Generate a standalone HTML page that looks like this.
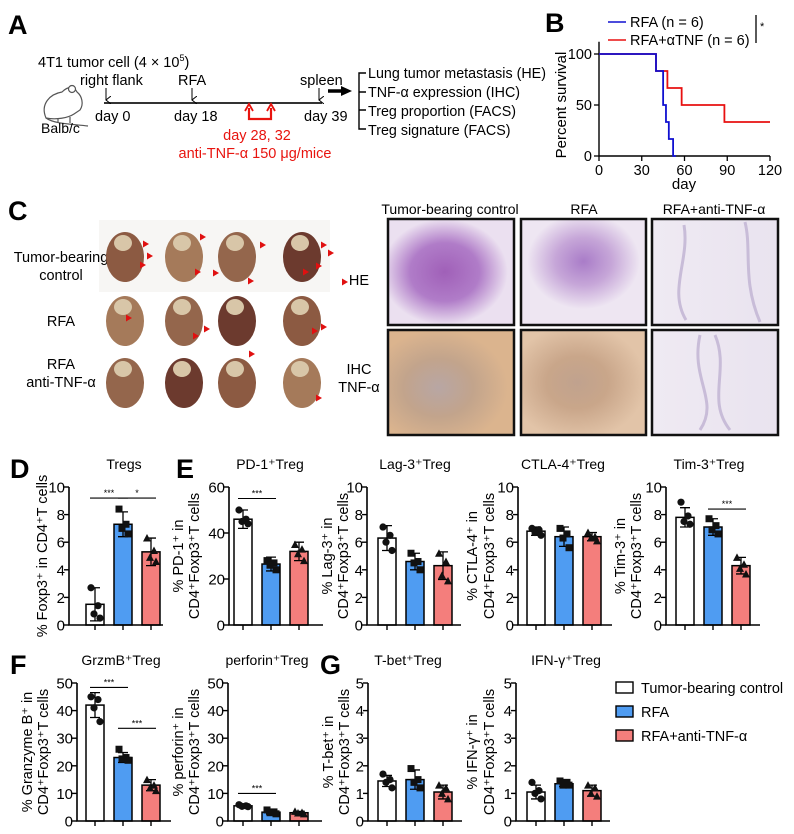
<!DOCTYPE html>
<html><head><meta charset="utf-8"><style>
body{margin:0;background:#fff;}
svg{display:block;font-family:"Liberation Sans",sans-serif;}
text{fill:#000;}
</style></head><body>
<svg id="fig" width="794" height="834" viewBox="0 0 794 834">
<defs>
<radialGradient id="he1" cx="0.45" cy="0.5" r="0.5"><stop offset="0" stop-color="#a060b8"/><stop offset="0.55" stop-color="#b07cc8"/><stop offset="1" stop-color="#ebe0f0"/></radialGradient>
<radialGradient id="he2" cx="0.5" cy="0.4" r="0.45"><stop offset="0" stop-color="#a97cc8"/><stop offset="0.5" stop-color="#c6a6d8"/><stop offset="1" stop-color="#eee6f2"/></radialGradient>
<linearGradient id="he3"><stop offset="0" stop-color="#efeaf3"/><stop offset="1" stop-color="#e9e3ef"/></linearGradient>
<radialGradient id="ihc1" cx="0.4" cy="0.55" r="0.55"><stop offset="0" stop-color="#b8a6a4"/><stop offset="0.5" stop-color="#c2a48c"/><stop offset="1" stop-color="#dbb48e"/></radialGradient>
<radialGradient id="ihc2" cx="0.45" cy="0.5" r="0.55"><stop offset="0" stop-color="#c0a28e"/><stop offset="0.45" stop-color="#c9a68a"/><stop offset="1" stop-color="#e2c4a8"/></radialGradient>
<marker id="ah" markerWidth="8" markerHeight="6" refX="4" refY="5" orient="auto"><path d="M0,0 L4,5 L8,0" fill="none" stroke="#000" stroke-width="1"/></marker>
</defs>

<!-- Panel A -->
<g>
<text x="8" y="34" font-size="27" font-weight="bold">A</text>
<text x="38" y="67" font-size="14.5">4T1 tumor cell (4 × 10<tspan font-size="9" dy="-6">5</tspan><tspan dy="6">)</tspan></text>
<text x="80" y="85" font-size="14.5">right flank</text>
<text x="178" y="85" font-size="14.5">RFA</text>
<text x="300" y="85" font-size="14.5">spleen</text>
<line x1="104" y1="103" x2="322" y2="103" stroke="#333" stroke-width="2"/>
<line x1="106" y1="88" x2="106" y2="100" stroke="#000" marker-end="url(#ah)"/>
<line x1="192" y1="88" x2="192" y2="100" stroke="#000" marker-end="url(#ah)"/>
<line x1="319" y1="88" x2="319" y2="100" stroke="#000" marker-end="url(#ah)"/>
<text x="95" y="121" font-size="14.5">day 0</text>
<text x="174" y="121" font-size="14.5">day 18</text>
<text x="304" y="121" font-size="14.5">day 39</text>
<path d="M249,108 V119 H271 V108" fill="none" stroke="#e8140f" stroke-width="2.2"/>
<path d="M245,111 L249,104 L253,111 M267,111 L271,104 L275,111" fill="none" stroke="#e8140f" stroke-width="1.8"/>
<text x="257" y="140" font-size="14.5" text-anchor="middle" style="fill:#e8140f">day 28, 32</text>
<text x="255" y="158" font-size="14.5" text-anchor="middle" style="fill:#e8140f">anti-TNF-α 150 μg/mice</text>
<path d="M328,91 H343" stroke="#000" stroke-width="3.5"/><path d="M341,86 L352,91 L341,96 Z" fill="#000"/>
<path d="M366,73 H359 V129 H366 M359,92 H366 M359,110 H366" fill="none" stroke="#000" stroke-width="1.4"/>
<text x="368" y="78" font-size="14.3">Lung tumor metastasis (HE)</text>
<text x="368" y="97" font-size="14.3">TNF-α expression (IHC)</text>
<text x="368" y="116" font-size="14.3">Treg proportion (FACS)</text>
<text x="368" y="135" font-size="14.3">Treg signature (FACS)</text>
<g fill="#fff" stroke="#555" stroke-width="1.2">
<path d="M46,118 C40,104 50,94 62,92 C68,86 74,86 77,92 C82,96 84,104 80,110 L74,114 C68,118 56,120 46,118 Z"/>
<circle cx="72" cy="89" r="3.5"/>
<path d="M46,118 C54,124 72,124 88,126" fill="none"/>
<path d="M58,118 v5 M70,117 v6" fill="none"/>
</g>
<text x="41" y="133" font-size="14">Balb/c</text>
</g>

<!-- Panel B -->
<g id="panelB">
<text x="545" y="32" font-size="27" font-weight="bold">B</text>
<line x1="608" y1="22" x2="626" y2="22" stroke="#1010d0" stroke-width="1.6"/>
<text x="630" y="27" font-size="14.5">RFA (n = 6)</text>
<line x1="608" y1="40" x2="626" y2="40" stroke="#e81010" stroke-width="1.6"/>
<text x="630" y="45" font-size="14.5">RFA+αTNF (n = 6)</text>
<line x1="756" y1="15" x2="756" y2="43" stroke="#000" stroke-width="1.3"/>
<text x="760" y="30" font-size="11">*</text>
<text transform="translate(566,105) rotate(-90)" font-size="15" text-anchor="middle">Percent survival</text>
<text x="684" y="189" font-size="15" text-anchor="middle">day</text>
</g>

<!-- Panel C -->
<g>
<text x="8" y="220" font-size="27" font-weight="bold">C</text>
<rect x="99" y="220" width="231" height="72" fill="#f7f6f4"/>
<text x="61" y="262" font-size="14.5" text-anchor="middle">Tumor-bearing</text>
<text x="61" y="280" font-size="14.5" text-anchor="middle">control</text>
<text x="61" y="326" font-size="14.5" text-anchor="middle">RFA</text>
<text x="61" y="369" font-size="14.5" text-anchor="middle">RFA</text>
<text x="61" y="387" font-size="14.5" text-anchor="middle">anti-TNF-α</text>
<g id="lungs"></g>
<text x="450" y="214" font-size="14" text-anchor="middle">Tumor-bearing control</text>
<text x="584" y="214" font-size="14" text-anchor="middle">RFA</text>
<text x="714" y="214" font-size="14" text-anchor="middle">RFA+anti-TNF-α</text>
<text x="359" y="285" font-size="14.5" text-anchor="middle">HE</text>
<text x="359" y="374" font-size="14.5" text-anchor="middle">IHC</text>
<text x="359" y="392" font-size="14.5" text-anchor="middle">TNF-α</text>
<rect x="388" y="219" width="126" height="106" fill="url(#he1)" stroke="#111" stroke-width="2.5"/>
<rect x="521" y="219" width="125" height="106" fill="url(#he2)" stroke="#111" stroke-width="2.5"/>
<rect x="652" y="219" width="126" height="106" fill="url(#he3)" stroke="#111" stroke-width="2.5"/>
<rect x="388" y="330" width="126" height="105" fill="url(#ihc1)" stroke="#111" stroke-width="2.5"/>
<rect x="521" y="330" width="125" height="105" fill="url(#ihc2)" stroke="#111" stroke-width="2.5"/>
<rect x="652" y="330" width="126" height="105" fill="url(#he3)" stroke="#111" stroke-width="2.5"/>
<path d="M684,225 C690,260 668,290 686,320 M715,335 C730,370 706,400 730,430 M745,222 C752,250 742,280 760,322 M700,335 C690,380 720,400 700,430" stroke="#c8bcd8" stroke-width="3" fill="none"/>
</g>

<text x="10" y="478" font-size="27" font-weight="bold">D</text>
<text x="176" y="478" font-size="27" font-weight="bold">E</text>
<text x="10" y="674" font-size="27" font-weight="bold">F</text>
<text x="320" y="674" font-size="27" font-weight="bold">G</text>

<g>
<rect x="616" y="682" width="17" height="11" fill="#fff" stroke="#000" stroke-width="1.4"/>
<text x="641" y="693" font-size="14.5">Tumor-bearing control</text>
<rect x="616" y="706" width="17" height="11" fill="#4f9cf2" stroke="#000" stroke-width="1.4"/>
<text x="641" y="717" font-size="14.5">RFA</text>
<rect x="616" y="730" width="17" height="11" fill="#f47e7c" stroke="#000" stroke-width="1.4"/>
<text x="641" y="741" font-size="14.5">RFA+anti-TNF-α</text>
</g>
<g id="charts"></g>
</svg>
<script>
// ---- Survival data (panel B) ----
const survTicksX = [0, 30, 60, 90, 120];
const survTicksY = [0, 50, 100];
const rfaDays = [0, 40, 45, 47, 49, 52, 54];
const rfaSurv = [100, 83.3, 50, 33.3, 16.7, 0, 0];
const atnfDays = [0, 40, 48, 58, 88, 120];
const atnfSurv = [100, 83.3, 66.7, 50, 33.3, 33.3];

// ---- Bar chart data ----
const groups = ['Tumor-bearing control', 'RFA', 'RFA+anti-TNF-α'];
const tregMeans = [1.5, 7.3, 5.3];
const tregSD = [1.2, 0.9, 1.0];
const tregPts = [[2.7, 1.4, 0.8, 0.5], [8.4, 7.3, 7.0, 6.6], [6.3, 5.4, 4.9, 4.6]];
const pd1Means = [46, 26.5, 32];
const pd1SD = [4, 3, 4];
const pd1Pts = [[50, 46, 45, 44], [28, 27, 26, 24], [35, 33, 31, 28]];
const lag3Means = [6.3, 4.6, 4.3];
const lag3SD = [0.9, 0.6, 1.0];
const lag3Pts = [[7.1, 6.5, 6.0, 5.4], [5.2, 4.6, 4.5, 4.0], [5.2, 4.6, 3.6, 3.2]];
const ctla4Means = [6.8, 6.4, 6.4];
const ctla4SD = [0.3, 0.7, 0.3];
const ctla4Pts = [[7.0, 6.9, 6.7, 6.5], [7.0, 6.6, 6.3, 5.6], [6.7, 6.4, 6.3, 6.1]];
const tim3Means = [7.8, 7.1, 4.3];
const tim3SD = [0.7, 0.6, 0.6];
const tim3Pts = [[8.9, 7.9, 7.5, 7.3], [7.7, 7.2, 6.9, 6.6], [4.9, 4.4, 4.1, 3.7]];
const grzmMeans = [42, 23, 13];
const grzmSD = [4.5, 1.8, 2];
const grzmPts = [[45, 44, 41, 36], [26, 23, 22.5, 22], [15, 13, 12, 11]];
const perfMeans = [5.5, 3.2, 3];
const perfSD = [0.5, 0.7, 0.5];
const perfPts = [[5.9, 5.5, 5.3, 5.2], [4, 3.3, 3, 2.6], [3.5, 3.1, 2.9, 2.6]];
const tbetMeans = [1.45, 1.5, 1.05];
const tbetSD = [0.2, 0.35, 0.25];
const tbetPts = [[1.7, 1.5, 1.4, 1.2], [1.9, 1.5, 1.4, 1.2], [1.3, 1.2, 1.0, 0.8]];
const ifnMeans = [1.05, 1.35, 1.1];
const ifnSD = [0.25, 0.1, 0.2];
const ifnPts = [[1.4, 1.1, 1.0, 0.8], [1.45, 1.4, 1.3, 1.3], [1.3, 1.2, 1.0, 0.9]];

const NS = 'http://www.w3.org/2000/svg';
function mk(tag, attrs, parent) {
  const e = document.createElementNS(NS, tag);
  for (const k in attrs) e.setAttribute(k, attrs[k]);
  parent.appendChild(e);
  return e;
}

// ---- Panel B drawing ----
(function () {
  const g = document.getElementById('panelB');
  const x0 = 599, x1 = 770, yTop = 54, yBot = 156;
  const sx = d => x0 + d / 120 * (x1 - x0);
  const sy = v => yBot - v / 100 * (yBot - yTop);
  const ax = mk('path', { d: `M${x0},${sy(112)} V${yBot} H${x1}`, fill: 'none', stroke: '#000', 'stroke-width': 1.4 }, g);
  
  
  survTicksX.forEach(t => {
    mk('line', { x1: sx(t), y1: yBot, x2: sx(t), y2: yBot + 5, stroke: '#000', 'stroke-width': 1.3 }, g);
    const tx = mk('text', { x: sx(t), y: yBot + 19, 'font-size': 14.5, 'text-anchor': 'middle' }, g);
    tx.textContent = t;
    
    
  });
  survTicksY.forEach(t => {
    mk('line', { x1: x0 - 5, y1: sy(t), x2: x0, y2: sy(t), stroke: '#000', 'stroke-width': 1.3 }, g);
    const tx = mk('text', { x: x0 - 7, y: sy(t) + 5, 'font-size': 14.5, 'text-anchor': 'end' }, g);
    tx.textContent = t;
    
    
  });
  function step(days, surv, color, name) {
    let d = `M${sx(days[0])},${sy(surv[0])}`;
    for (let i = 1; i < days.length; i++) d += ` H${sx(days[i])} V${sy(surv[i])}`;
    const p = mk('path', { d, fill: 'none', stroke: color, 'stroke-width': 1.8 }, g);
    
    
  }
  step(atnfDays, atnfSurv, '#e81010', 'survival-curve-rfa-atnf');
  step(rfaDays, rfaSurv, '#1010d0', 'survival-curve-rfa');
})();

// ---- Lung photos ----
(function () {
  const g = document.getElementById('lungs');
  const xs = [125, 184, 237, 302], ys = [257, 321, 383];
  const cols = ['#8c5a42', '#a57a5a', '#94664c', '#6c3a2e'];
  ys.forEach((y, r) => xs.forEach((x, c) => {
    const e = mk('ellipse', { cx: x, cy: y, rx: 19, ry: 25, fill: cols[(r + c) % 4] }, g);
    
    
    mk('ellipse', { cx: x - 2, cy: y - 14, rx: 9, ry: 8, fill: '#d8c6a8' }, g);
  }));
  [[143,244],[147,256],[140,265],[200,237],[195,272],[213,273],[260,245],[248,281],[342,282],[321,245],[328,253],[303,272],[316,266],[126,318],[204,329],[193,336],[249,354],[312,331],[321,327],[316,398]].forEach(p => {
    mk('path', { d: `M${p[0]},${p[1] - 3.5} L${p[0] + 6},${p[1]} L${p[0]},${p[1] + 3.5} Z`, fill: '#e01010' }, g);
  });
})();

// ---- Bar charts ----
const cfgs = [
  { means: tregMeans, sd: tregSD, pts: tregPts, ax: 69, y0: 625, max: 10, step: 2, start: 17, tox: 55, l: [-22], title: 'Tregs', lab: ['% Foxp3⁺ in CD4⁺T cells'], sig: [[0, 1, 9.2, '***'], [1, 2, 9.2, '*']], name: 'tregs' },
  { means: pd1Means, sd: pd1SD, pts: pd1Pts, ax: 229, y0: 625, max: 60, step: 20, start: 5, tox: 41, l: [-46, -30], title: 'PD-1⁺Treg', lab: ['% PD-1⁺ in', 'CD4⁺Foxp3⁺T cells'], sig: [[0, 1, 55, '***']], name: 'pd1' },
  { means: lag3Means, sd: lag3SD, pts: lag3Pts, ax: 367, y0: 625, max: 10, step: 2, start: 11, tox: 48, l: [-35, -19], title: 'Lag-3⁺Treg', lab: ['% Lag-3⁺ in', 'CD4⁺Foxp3⁺T cells'], sig: [], name: 'lag3' },
  { means: ctla4Means, sd: ctla4SD, pts: ctla4Pts, ax: 518, y0: 625, max: 10, step: 2, start: 9, tox: 45, l: [-41, -24], title: 'CTLA-4⁺Treg', lab: ['% CTLA-4⁺ in', 'CD4⁺Foxp3⁺T cells'], sig: [], name: 'ctla4' },
  { means: tim3Means, sd: tim3SD, pts: tim3Pts, ax: 666, y0: 625, max: 10, step: 2, start: 10, tox: 43, l: [-41, -25], title: 'Tim-3⁺Treg', lab: ['% Tim-3⁺ in', 'CD4⁺Foxp3⁺T cells'], sig: [[1, 2, 8.4, '***']], name: 'tim3' },
  { means: grzmMeans, sd: grzmSD, pts: grzmPts, ax: 77, y0: 821, max: 50, step: 10, start: 9, tox: 44, l: [-45, -29], title: 'GrzmB⁺Treg', lab: ['% Granzyme B⁺ in', 'CD4⁺Foxp3⁺T cells'], sig: [[0, 1, 48.4, '***'], [1, 2, 33.6, '***']], name: 'grzmb' },
  { means: perfMeans, sd: perfSD, pts: perfPts, ax: 228, y0: 821, max: 50, step: 10, start: 6, tox: 39, l: [-45, -29], title: 'perforin⁺Treg', lab: ['% perforin⁺ in', 'CD4⁺Foxp3⁺T cells'], sig: [[0, 1, 10, '***']], name: 'perforin' },
  { means: tbetMeans, sd: tbetSD, pts: tbetPts, ax: 368, y0: 821, max: 5, step: 1, start: 10, tox: 40, l: [-35, -19], title: 'T-bet⁺Treg', lab: ['% T-bet⁺ in', 'CD4⁺Foxp3⁺T cells'], sig: [], name: 'tbet' },
  { means: ifnMeans, sd: ifnSD, pts: ifnPts, ax: 516, y0: 821, max: 5, step: 1, start: 11, tox: 50, l: [-39, -22], title: 'IFN-γ⁺Treg', lab: ['% IFN-γ⁺ in', 'CD4⁺Foxp3⁺T cells'], sig: [], name: 'ifng' }
];
const fills = ['#ffffff', '#4f9cf2', '#f47e7c'];
const chartsG = document.getElementById('charts');
cfgs.forEach(c => {
  const g = mk('g', {}, chartsG);
  
  
  const H = 138;
  const sy = v => c.y0 - v / c.max * H;
  const bx = i => c.ax + c.start + i * 28;
  const bw = 18;
  const t = mk('text', { x: c.ax + c.tox, y: c.y0 - H - 18, 'font-size': 14, 'text-anchor': 'middle' }, g);
  t.textContent = c.title;
  
  
  c.lab.forEach((l, i) => {
    const lx = c.ax + c.l[i];
    const tl = mk('text', { transform: `translate(${lx},${c.y0 - H / 2}) rotate(-90)`, 'font-size': 14.5, 'text-anchor': 'middle' }, g);
    tl.textContent = l;
    
    
  });
  for (let v = 0; v <= c.max + 1e-9; v += c.step) {
    mk('line', { x1: c.ax - 5, y1: sy(v), x2: c.ax, y2: sy(v), stroke: '#000', 'stroke-width': 1.4 }, g);
    const tx = mk('text', { x: c.ax - 4, y: sy(v) + 5.5, 'font-size': 15, 'text-anchor': 'end' }, g);
    tx.textContent = v;
    
    
  }
  c.means.forEach((m, i) => {
    const r = mk('rect', { x: bx(i), y: sy(m), width: bw, height: c.y0 - sy(m), fill: fills[i], stroke: '#000', 'stroke-width': 1.5 }, g);
    
    
    const cx = bx(i) + bw / 2;
    mk('path', { d: `M${cx},${sy(m - c.sd[i])} V${sy(m + c.sd[i])} M${cx - 5},${sy(m + c.sd[i])} H${cx + 5} M${cx - 5},${sy(m - c.sd[i])} H${cx + 5}`, stroke: '#000', 'stroke-width': 1.3, fill: 'none' }, g);
    mk('line', { x1: cx, y1: c.y0, x2: cx, y2: c.y0 + 5, stroke: '#000', 'stroke-width': 1.4 }, g);
    c.pts[i].forEach((p, j) => {
      const px = cx + [-4, 3, -1, 5][j], py = sy(p);
      let e;
      if (i === 0) e = mk('circle', { cx: px, cy: py, r: 3.6, fill: '#111' }, g);
      else if (i === 1) e = mk('rect', { x: px - 3.5, y: py - 3.5, width: 7, height: 7, fill: '#111' }, g);
      else e = mk('path', { d: `M${px},${py - 4} L${px + 4},${py + 3.5} L${px - 4},${py + 3.5} Z`, fill: '#111' }, g);
      
      
    });
  });
  mk('path', { d: `M${c.ax},${sy(c.max)} V${c.y0} H${c.ax + 94}`, fill: 'none', stroke: '#000', 'stroke-width': 1.6 }, g);
  c.sig.forEach(s => {
    const y = sy(s[2]);
    mk('line', { x1: bx(s[0]) + 4, y1: y, x2: bx(s[1]) + bw - 4, y2: y, stroke: '#000', 'stroke-width': 1.1 }, g);
    const st = mk('text', { x: (bx(s[0]) + bx(s[1]) + bw) / 2, y: y - 2, 'font-size': 9, 'text-anchor': 'middle' }, g);
    st.textContent = s[3];
    
    
  });
});
</script>
</body></html>
